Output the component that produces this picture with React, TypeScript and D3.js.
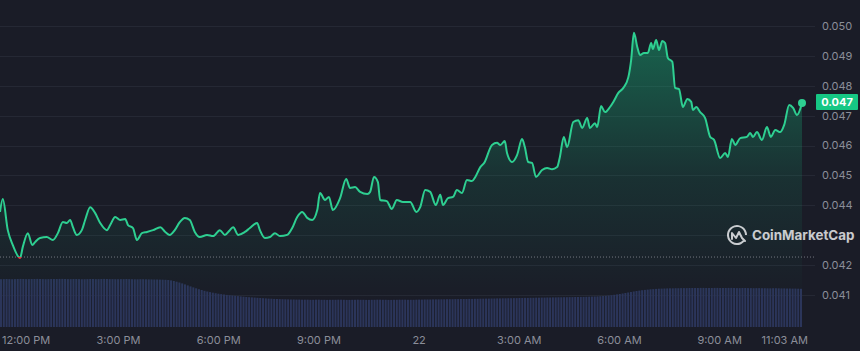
import React, { useEffect, useRef } from "react";
import * as d3 from "d3";

const WIDTH = 860;
const HEIGHT = 351;

// minutes since 11:27 AM (day 21)
const priceMinutes = [
  0, 5, 14, 23, 36, 41, 50, 58, 63, 72, 84, 95, 104, 113, 120, 126, 131, 138, 147, 153,
  162, 171, 180, 192, 198, 207, 216, 225, 230, 239, 246, 255, 264, 275, 288, 297, 305, 314, 323, 332,
  341, 350, 359, 372, 383, 395, 404, 413, 419, 428, 440, 449, 462, 467, 476, 485, 494, 503, 516, 525,
  534, 543, 552, 561, 570, 575, 584, 591, 598, 611, 622, 629, 638, 647, 660, 665, 672, 679, 683, 695,
  704, 713, 724, 737, 748, 755, 764, 773, 783, 791, 796, 805, 814, 821, 830, 839, 848, 854, 863, 870,
  884, 893, 899, 907, 911, 920, 929, 938, 943, 949, 956, 963, 974, 983, 992, 1001, 1006, 1013, 1019, 1030,
  1039, 1046, 1055, 1060, 1069, 1073, 1080, 1087, 1096, 1102, 1111, 1120, 1129, 1134, 1139, 1145, 1150, 1157, 1164, 1170,
  1173, 1179, 1184, 1190, 1195, 1200, 1208, 1213, 1220, 1227, 1235, 1242, 1245, 1251, 1258, 1267, 1276, 1283, 1294, 1303,
  1308, 1315, 1321, 1330, 1342, 1348, 1353, 1360, 1369, 1378, 1385, 1393, 1402, 1409, 1418, 1425, 1432, 1441,
];

const priceValues = [
  0.04378, 0.04421, 0.04317, 0.04267, 0.04224, 0.04261, 0.04307, 0.04267, 0.04277, 0.04291, 0.04294, 0.04284, 0.04307, 0.04344, 0.04341, 0.04351, 0.04327, 0.04301, 0.04317, 0.04351,
  0.04394, 0.04374, 0.04341, 0.04317, 0.04334, 0.04361, 0.04351, 0.04354, 0.04334, 0.04324, 0.04284, 0.04307, 0.04311, 0.04317, 0.04327, 0.04311, 0.04301, 0.04317, 0.04344, 0.04358,
  0.04351, 0.04311, 0.04294, 0.04301, 0.04297, 0.04317, 0.04301, 0.04317, 0.04327, 0.04301, 0.04311, 0.04324, 0.04341, 0.04317, 0.04291, 0.04294, 0.04307, 0.04297, 0.04301, 0.04324,
  0.04361, 0.04378, 0.04358, 0.04351, 0.04384, 0.04441, 0.04418, 0.04428, 0.04384, 0.04424, 0.04488, 0.04458, 0.04461, 0.04445, 0.04438, 0.04445, 0.04495, 0.04478, 0.04418, 0.04414,
  0.04388, 0.04418, 0.04411, 0.04411, 0.04378, 0.04394, 0.04451, 0.04445, 0.04401, 0.04435, 0.04401, 0.04424, 0.04428, 0.04451, 0.04441, 0.04485, 0.04481, 0.04495, 0.04528, 0.04542,
  0.04602, 0.04609, 0.04602, 0.04615, 0.04575, 0.04545, 0.04568, 0.04622, 0.04595, 0.04545, 0.04542, 0.04495, 0.04518, 0.04525, 0.04521, 0.04528, 0.04562, 0.04629, 0.04595, 0.04679,
  0.04685, 0.04659, 0.04692, 0.04659, 0.04675, 0.04662, 0.04732, 0.04712, 0.04729, 0.04746, 0.04776, 0.04793, 0.04829, 0.04886, 0.04977, 0.04930, 0.04903, 0.04910, 0.04910, 0.04943,
  0.04923, 0.04953, 0.04920, 0.04950, 0.04943, 0.04893, 0.04880, 0.04793, 0.04789, 0.04729, 0.04756, 0.04746, 0.04719, 0.04729, 0.04712, 0.04692, 0.04629, 0.04619, 0.04558, 0.04575,
  0.04562, 0.04622, 0.04602, 0.04625, 0.04629, 0.04642, 0.04629, 0.04645, 0.04619, 0.04662, 0.04629, 0.04652, 0.04645, 0.04669, 0.04736, 0.04726, 0.04702, 0.04742,
];

const referencePrice = 0.04227;
const currentPriceLabel = "0.047";

// 5-minute volume bars (arbitrary units)
const volumeValues = [
  47.8, 47.9, 48.0, 47.9, 47.8, 47.9, 48.0, 48.1, 48.0, 47.9, 47.9, 48.0, 48.0, 48.1, 48.0, 47.9, 47.8, 47.9, 48.0, 48.0,
  48.0, 48.1, 48.1, 48.0, 47.9, 47.9, 48.0, 48.0, 47.9, 47.8, 47.8, 47.9, 48.0, 48.0, 47.9, 47.9, 48.0, 48.1, 48.0, 47.9,
  47.9, 47.8, 47.8, 47.9, 47.9, 48.0, 47.9, 47.8, 47.7, 47.7, 47.8, 47.8, 47.7, 47.6, 47.6, 47.5, 47.5, 47.4, 47.3, 47.2,
  47.0, 46.6, 46.0, 45.3, 44.5, 43.6, 42.6, 41.6, 40.6, 39.6, 38.7, 37.8, 37.0, 36.2, 35.5, 34.9, 34.3, 33.8, 33.3, 32.9,
  32.5, 32.1, 31.8, 31.5, 31.2, 30.9, 30.6, 30.3, 30.0, 29.8, 29.6, 29.4, 29.2, 29.0, 28.8, 28.6, 28.4, 28.3, 28.1, 28.0,
  27.9, 27.8, 27.7, 27.6, 27.5, 27.5, 27.4, 27.4, 27.3, 27.3, 27.3, 27.2, 27.2, 27.3, 27.3, 27.2, 27.2, 27.1, 27.2, 27.2,
  27.2, 27.3, 27.3, 27.2, 27.1, 27.1, 27.2, 27.2, 27.3, 27.2, 27.2, 27.1, 27.1, 27.2, 27.2, 27.3, 27.3, 27.2, 27.2, 27.1,
  27.1, 27.2, 27.2, 27.3, 27.3, 27.3, 27.2, 27.2, 27.2, 27.3, 27.4, 27.4, 27.5, 27.5, 27.5, 27.6, 27.6, 27.6, 27.7, 27.7,
  27.8, 27.8, 27.8, 27.9, 27.9, 28.0, 28.0, 28.0, 28.1, 28.1, 28.2, 28.2, 28.3, 28.3, 28.4, 28.4, 28.5, 28.5, 28.6, 28.6,
  28.7, 28.7, 28.8, 28.8, 28.9, 28.9, 29.0, 29.0, 29.1, 29.1, 29.2, 29.2, 29.3, 29.3, 29.4, 29.4, 29.5, 29.5, 29.6, 29.6,
  29.7, 29.7, 29.8, 29.8, 29.9, 29.9, 30.0, 30.0, 30.1, 30.1, 30.2, 30.3, 30.4, 30.5, 30.6, 30.8, 31.0, 31.2, 31.5, 31.8,
  32.2, 32.6, 33.0, 33.5, 34.0, 34.5, 35.0, 35.5, 36.0, 36.4, 36.8, 37.1, 37.4, 37.7, 37.9, 38.1, 38.3, 38.4, 38.5, 38.6,
  38.7, 38.7, 38.8, 38.8, 38.9, 38.9, 38.9, 39.0, 39.0, 39.0, 39.0, 39.1, 39.1, 39.0, 39.0, 39.0, 39.1, 39.1, 39.0, 39.0,
  39.0, 39.1, 39.1, 39.0, 38.9, 38.9, 39.0, 39.0, 38.9, 38.9, 38.8, 38.9, 38.9, 38.8, 38.8, 38.7, 38.7, 38.8, 38.8, 38.7,
  38.6, 38.6, 38.5, 38.5, 38.4, 38.4, 38.3, 38.2,
];

const priceTicks = [0.041, 0.042, 0.043, 0.044, 0.045, 0.046, 0.047, 0.048, 0.049, 0.05];
const timeTickMinutes = [33, 213, 393, 573, 753, 933, 1113, 1293, 1416];
const timeTickLabels = ["12:00 PM", "3:00 PM", "6:00 PM", "9:00 PM", "22", "3:00 AM", "6:00 AM", "9:00 AM", "11:03 AM"];

export default function App() {
  const ref = useRef<SVGSVGElement | null>(null);

  useEffect(() => {
    const svg = d3.select(ref.current);
    svg.selectAll("*").remove();

    const bg = "#1a1c27";
    const green = "#2ecf91";
    const red = "#ea3943";
    const textGray = "#8b8e99";
    const font = "Inter, 'Noto Sans', sans-serif";

    const x = d3.scaleLinear().domain([0, 1441]).range([0, 802]);
    const y = d3.scaleLinear().domain([0.041, 0.05]).range([295, 26]);
    const yVol = d3.scaleLinear().domain([0, 50]).range([327, 277]);
    const xBand = d3
      .scaleBand<number>()
      .domain(d3.range(volumeValues.length))
      .range([0, 802])
      .paddingInner(0.28);

    svg.append("rect").attr("width", WIDTH).attr("height", HEIGHT).attr("fill", bg);

    const defs = svg.append("defs");
    const grad = defs
      .append("linearGradient")
      .attr("id", "areaGrad")
      .attr("gradientUnits", "userSpaceOnUse")
      .attr("x1", 0)
      .attr("x2", 0)
      .attr("y1", 30)
      .attr("y2", 300);
    grad.append("stop").attr("offset", 0).attr("stop-color", "#16c784").attr("stop-opacity", 0.42);
    grad.append("stop").attr("offset", 0.55).attr("stop-color", "#16c784").attr("stop-opacity", 0.12);
    grad.append("stop").attr("offset", 1).attr("stop-color", "#16c784").attr("stop-opacity", 0);

    const refY = y(referencePrice);
    defs.append("clipPath").attr("id", "aboveRef").append("rect").attr("x", 0).attr("y", 0).attr("width", WIDTH).attr("height", refY);
    defs.append("clipPath").attr("id", "belowRef").append("rect").attr("x", 0).attr("y", refY).attr("width", WIDTH).attr("height", HEIGHT - refY);

    // grid
    svg
      .append("g")
      .selectAll("line")
      .data(priceTicks)
      .join("line")
      .attr("x1", 0)
      .attr("x2", 815)
      .attr("y1", (d) => Math.round(y(d)) + 0.5)
      .attr("y2", (d) => Math.round(y(d)) + 0.5)
      .attr("stroke", "#252834")
      .attr("stroke-width", 1);

    // volume bars
    svg
      .append("g")
      .selectAll("rect")
      .data(volumeValues)
      .join("rect")
      .attr("x", (_d, i) => xBand(i) as number)
      .attr("width", xBand.bandwidth())
      .attr("y", (d) => yVol(d))
      .attr("height", (d) => yVol(0) - yVol(d))
      .attr("fill", "#2b355a");

    const pts = priceMinutes.map((m, i) => [m, priceValues[i]] as [number, number]);

    const area = d3
      .area<[number, number]>()
      .x((d) => x(d[0]))
      .y0(327)
      .y1((d) => y(d[1]))
      .curve(d3.curveMonotoneX);
    svg.append("path").attr("d", area(pts) as string).attr("fill", "url(#areaGrad)");

    // reference dotted line
    svg
      .append("line")
      .attr("x1", 0)
      .attr("x2", 815)
      .attr("y1", refY)
      .attr("y2", refY)
      .attr("stroke", "#9a9ca6")
      .attr("stroke-width", 1)
      .attr("stroke-dasharray", "1 2")
      .attr("opacity", 0.7);

    const line = d3
      .line<[number, number]>()
      .x((d) => x(d[0]))
      .y((d) => y(d[1]))
      .curve(d3.curveMonotoneX);

    svg
      .append("path")
      .attr("d", line(pts) as string)
      .attr("fill", "none")
      .attr("stroke", green)
      .attr("stroke-width", 2)
      .attr("stroke-linejoin", "round")
      .attr("clip-path", "url(#aboveRef)");
    svg
      .append("path")
      .attr("d", line(pts) as string)
      .attr("fill", "none")
      .attr("stroke", red)
      .attr("stroke-width", 2)
      .attr("stroke-linejoin", "round")
      .attr("clip-path", "url(#belowRef)");

    const last = pts[pts.length - 1];
    svg.append("circle").attr("cx", x(last[0])).attr("cy", y(last[1])).attr("r", 4).attr("fill", green);

    // y labels
    svg
      .append("g")
      .selectAll("text")
      .data(priceTicks.filter((t) => t !== 0.043))
      .join("text")
      .attr("x", 822)
      .attr("y", (d) => y(d))
      .attr("dy", "0.35em")
      .attr("fill", textGray)
      .attr("font-family", font)
      .attr("font-size", 11)
      .text((d) => d3.format(".3f")(d));

    // current price badge
    const badgeY = 102;
    svg.append("rect").attr("x", 816).attr("y", badgeY - 8).attr("width", 42).attr("height", 16).attr("rx", 1).attr("fill", "#16c784");
    svg
      .append("text")
      .attr("x", 837)
      .attr("y", badgeY)
      .attr("dy", "0.35em")
      .attr("text-anchor", "middle")
      .attr("fill", "#ffffff")
      .attr("font-family", font)
      .attr("font-weight", 700)
      .attr("font-size", 11)
      .text(currentPriceLabel);

    // x labels
    const xg = svg.append("g");
    timeTickMinutes.forEach((m, i) => {
      const t = xg
        .append("text")
        .attr("x", x(m))
        .attr("y", 340)
        .attr("dy", "0.35em")
        .attr("text-anchor", "middle")
        .attr("fill", textGray)
        .attr("font-family", font)
        .attr("font-size", 11)
        .text(timeTickLabels[i]);
      const node = t.node() as SVGTextElement;
      const w = node.getComputedTextLength();
      let cx = x(m);
      if (cx - w / 2 < 2) cx = 2 + w / 2;
      if (cx + w / 2 > 808) cx = 808 - w / 2;
      t.attr("x", cx);
    });

    // watermark
    const wm = svg.append("g").attr("opacity", 0.85);
    const lx = 737;
    const ly = 235;
    wm.append("path")
      .attr(
        "d",
        d3.arc()({ innerRadius: 8, outerRadius: 10, startAngle: Math.PI * 0.72, endAngle: Math.PI * 2.5 }) as string
      )
      .attr("transform", `translate(${lx},${ly})`)
      .attr("fill", "#e8e9ec");
    wm.append("path")
      .attr("d", `M${lx - 5},${ly + 4} L${lx - 5},${ly - 2} L${lx - 1},${ly + 3} L${lx + 2},${ly - 3} L${lx + 5},${ly + 3} L${lx + 8},${ly + 6}`)
      .attr("fill", "none")
      .attr("stroke", "#e8e9ec")
      .attr("stroke-width", 2)
      .attr("stroke-linejoin", "round")
      .attr("stroke-linecap", "round");
    wm.append("text")
      .attr("x", 752)
      .attr("y", ly)
      .attr("dy", "0.35em")
      .attr("fill", "#e8e9ec")
      .attr("font-family", font)
      .attr("font-weight", 700)
      .attr("font-size", 13.4)
      .text("CoinMarketCap");
  }, []);

  return (
    <svg
      ref={ref}
      width={WIDTH}
      height={HEIGHT}
      style={{ position: "absolute", left: 0, top: 0, display: "block" }}
    />
  );
}
